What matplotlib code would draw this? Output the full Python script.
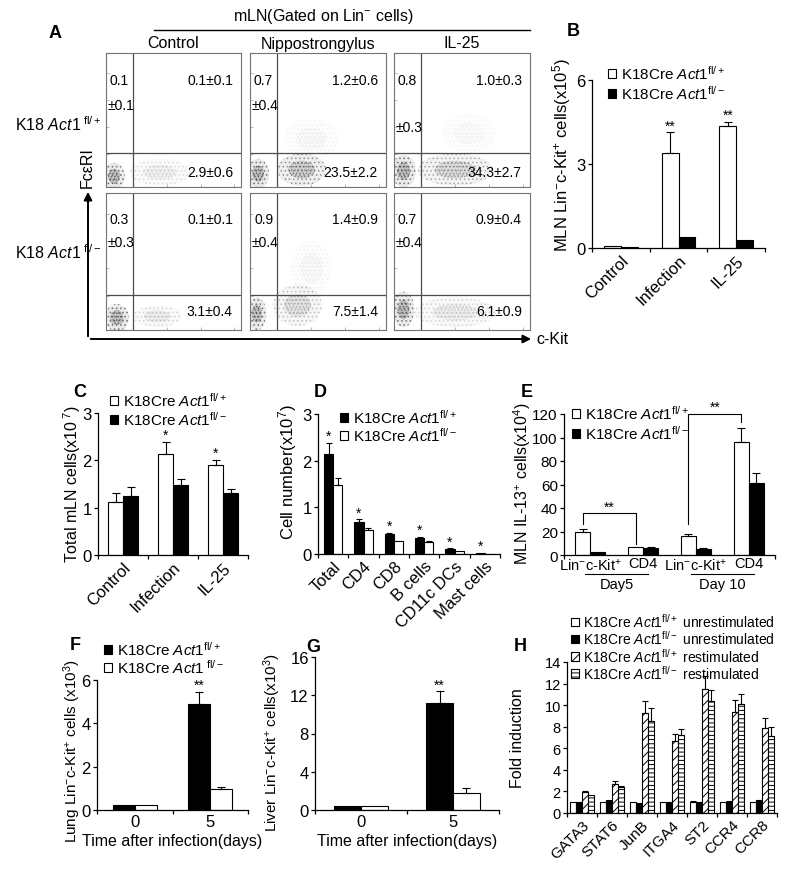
import numpy as np
import matplotlib
matplotlib.use("Agg")
import matplotlib.pyplot as plt
from matplotlib.patches import Patch, Ellipse, FancyArrowPatch
from matplotlib.lines import Line2D
from matplotlib.transforms import blended_transform_factory

plt.rcParams['font.family'] = 'Liberation Sans'
plt.rcParams['mathtext.fontset'] = 'custom'
plt.rcParams['mathtext.rm'] = 'Liberation Sans'
plt.rcParams['mathtext.it'] = 'Liberation Sans:italic'
plt.rcParams['mathtext.bf'] = 'Liberation Sans:bold'
plt.rcParams['hatch.linewidth'] = 0.7

# ---- labels
FL_P = r"K18Cre $\mathit{Act1}^{\mathrm{fl/+}}$"
FL_M = r"K18Cre $\mathit{Act1}^{\mathrm{fl/-}}$"

# ---- panel A: quadrant stats (rows: fl/+, fl/- ; cols: Control, Nippo, IL-25)
a_cols = ["Control", "Nippostrongylus", "IL-25"]
a_rows = [r"K18 $\mathit{Act1}^{\ \mathrm{fl/+}}$", r"K18 $\mathit{Act1}^{\ \mathrm{fl/-}}$"]
ul_mean = [[0.1, 0.7, 0.8], [0.3, 0.9, 0.7]]
ul_sd = [[0.1, 0.4, 0.3], [0.3, 0.4, 0.4]]
ur_mean = [[0.1, 1.2, 1.0], [0.1, 1.4, 0.9]]
ur_sd = [[0.1, 0.6, 0.3], [0.1, 0.9, 0.4]]
lr_mean = [[2.9, 23.5, 34.3], [3.1, 7.5, 6.1]]
lr_sd = [[0.6, 2.2, 2.7], [0.4, 1.4, 0.9]]
# cell clouds: (cx, cy, width, height, intensity) in gate-plot units
a_clouds = [
    [[(0.06, 0.08, 0.16, 0.2, 1.0), (0.4, 0.11, 0.45, 0.2, 0.2)],
     [(0.06, 0.1, 0.16, 0.22, 1.0), (0.38, 0.13, 0.36, 0.24, 0.75), (0.45, 0.36, 0.4, 0.3, 0.08)],
     [(0.07, 0.12, 0.18, 0.24, 1.0), (0.45, 0.13, 0.55, 0.24, 0.55), (0.55, 0.4, 0.4, 0.3, 0.06)]],
    [[(0.08, 0.09, 0.18, 0.2, 1.0), (0.38, 0.1, 0.36, 0.16, 0.25)],
     [(0.05, 0.12, 0.14, 0.24, 1.0), (0.35, 0.18, 0.36, 0.3, 0.4), (0.45, 0.45, 0.3, 0.4, 0.08)],
     [(0.07, 0.15, 0.16, 0.26, 1.0), (0.45, 0.13, 0.6, 0.22, 0.25)]],
]

# ---- panel B
b_cats = ["Control", "Infection", "IL-25"]
b_fp = [0.07, 3.38, 4.34]
b_fp_err = [0, 0.75, 0.15]
b_fm = [0.03, 0.38, 0.27]
b_fm_err = [0, 0, 0]
b_stars = ["", "**", "**"]

# ---- panel C
c_cats = ["Control", "Infection", "IL-25"]
c_fp = [1.11, 2.14, 1.90]
c_fp_err = [0.2, 0.25, 0.11]
c_fm = [1.24, 1.48, 1.31]
c_fm_err = [0.2, 0.13, 0.08]
c_stars = ["", "*", "*"]

# ---- panel D
d_cats = ["Total", "CD4", "CD8", "B cells", "CD11c DCs", "Mast cells"]
d_fp = [2.15, 0.68, 0.43, 0.34, 0.11, 0.02]
d_fp_err = [0.23, 0.06, 0.02, 0.02, 0.01, 0]
d_fm = [1.48, 0.51, 0.27, 0.25, 0.065, 0.01]
d_fm_err = [0.15, 0.04, 0, 0.02, 0, 0]
d_stars = ["*", "*", "*", "*", "*", "*"]

# ---- panel E
e_cats = [r"Lin$^{-}$c-Kit$^{+}$", "CD4", r"Lin$^{-}$c-Kit$^{+}$", "CD4"]
e_days = ["Day5", "Day 10"]
e_fp = [19.2, 7.1, 15.8, 96.0]
e_fp_err = [2.8, 0, 2.0, 12.0]
e_fm = [2.3, 6.2, 5.1, 61.6]
e_fm_err = [0, 0.6, 0.5, 8.4]
# brackets: (left group, right group, left leg low, top, right leg low)
e_brackets = [(0, 1, 26, 35.5, 9), (2, 3, 26, 120, 113)]

# ---- panels F, G
t_days = ["0", "5"]
f_fp = [0.22, 4.89]
f_fp_err = [0, 0.57]
f_fm = [0.22, 0.99]
f_fm_err = [0, 0.07]
g_fp = [0.42, 11.2]
g_fp_err = [0, 1.2]
g_fm = [0.42, 1.82]
g_fm_err = [0, 0.5]

# ---- panel H
h_genes = ["GATA3", "STAT6", "JunB", "ITGA4", "ST2", "CCR4", "CCR8"]
h_fp_un = [1, 1, 1, 1, 1, 1, 1]
h_fp_un_err = [0, 0, 0, 0, 0.1, 0, 0]
h_fm_un = [1.0, 1.2, 0.9, 1.0, 1.05, 1.05, 1.2]
h_fm_un_err = [0, 0, 0, 0, 0, 0.1, 0]
h_fp_re = [1.92, 2.65, 9.25, 6.7, 11.5, 9.35, 7.85]
h_fp_re_err = [0.08, 0.3, 1.1, 0.65, 1.2, 1.1, 0.95]
h_fm_re = [1.7, 2.4, 8.5, 7.2, 10.4, 10.1, 7.15]
h_fm_re_err = [0, 0.1, 1.2, 0.55, 1.0, 0.95, 0.8]

W, H = 800, 878
fig = plt.figure(figsize=(W / 100, H / 100), dpi=100)


def px_box(b):
    x0, y0, x1, y1 = b
    return [x0 / W, 1 - y1 / H, (x1 - x0) / W, (y1 - y0) / H]


def ftext(x, y, s, **kw):
    return fig.text(x / W, 1 - y / H, s, **kw)


def new_axes(b, ylim, yticks, fs):
    ax = fig.add_axes(px_box(b))
    ax.set_ylim(*ylim)
    ax.set_yticks(yticks)
    for s in ["top", "right"]:
        ax.spines[s].set_visible(False)
    for s in ["left", "bottom"]:
        ax.spines[s].set_linewidth(0.9)
    ax.tick_params(axis="y", direction="out", length=3, width=0.9, labelsize=fs, pad=1.5)
    ax.box_px = b
    return ax


def grouped(ax, cats, series, width, fs, rot=45, capsize=3):
    x = np.arange(len(cats))
    k = len(series)
    out = []
    for i, (vals, errs, face, hatch) in enumerate(series):
        pos = x + (i - (k - 1) / 2) * width
        vals = np.asarray(vals, float)
        errs = np.asarray(errs, float)
        ax.bar(pos, vals, width, color=face, edgecolor="black", linewidth=0.8, hatch=hatch)
        m = errs > 0
        if m.any():
            ax.errorbar(pos[m], vals[m], yerr=[np.zeros(m.sum()), errs[m]], fmt="none",
                        ecolor="black", elinewidth=0.8, capsize=capsize, capthick=0.8)
        out.append((pos, vals, errs))
    ax.set_xlim(-0.5, len(cats) - 0.5)
    ax.set_xticks(x)
    ax.set_xticks(np.arange(len(cats) + 1) - 0.5, minor=True)
    ax.tick_params(axis="x", which="major", length=0, pad=3)
    ax.tick_params(axis="x", which="minor", length=3, width=0.9)
    if rot:
        ax.set_xticklabels(cats, rotation=rot, ha="right", rotation_mode="anchor", fontsize=fs)
    else:
        ax.set_xticklabels(cats, fontsize=fs)
    return out


def stars(ax, ser, marks, fs=10):
    pos, vals, errs = ser
    for p, v, e, mk in zip(pos, vals, errs, marks):
        if mk:
            ax.annotate(mk, (p, v + e), xytext=(0, 0), textcoords="offset points",
                        ha="center", va="bottom", fontsize=fs)


def ylabel_px(ax, s, x, y, fs=11.5):
    x0, y0, x1, y1 = ax.box_px
    ax.set_ylabel(s, fontsize=fs, ha="center", va="center")
    ax.yaxis.set_label_coords((x - x0) / (x1 - x0), (y1 - y) / (y1 - y0))


def xlabel_px(ax, s, y, fs=11.5):
    x0, y0, x1, y1 = ax.box_px
    ax.set_xlabel(s, fontsize=fs, va="center")
    ax.xaxis.set_label_coords(0.5, (y1 - y) / (y1 - y0))


def legend_px(ax, handles, labels, x, y, fs=11, spacing=0.15):
    ax.legend(handles, labels, loc="upper left", bbox_to_anchor=(x / W, 1 - y / H),
              bbox_transform=fig.transFigure, frameon=False, fontsize=fs,
              handlelength=0.55, handleheight=0.55, handletextpad=0.3,
              labelspacing=spacing, borderpad=0, borderaxespad=0)


WHITE = Patch(facecolor="white", edgecolor="black", linewidth=0.8)
BLACK = Patch(facecolor="black", edgecolor="black", linewidth=0.8)

# =================== Panel A ===================
ftext(55, 33, "A", fontsize=13, fontweight="bold", ha="center", va="center")
ftext(323, 16, r"mLN(Gated on Lin$^{-}$ cells)", fontsize=11.5, ha="center", va="center")
fig.add_artist(Line2D([154 / W, 530 / W], [1 - 31 / H, 1 - 31 / H], color="black", lw=1.0))
col_x = [(106, 241), (250, 386), (394, 530)]
row_y = [(54, 188), (194, 331)]
row_label_y = [125, 253]
for c, (cx0, cx1) in enumerate(col_x):
    ftext((cx0 + cx1) / 2, 44, a_cols[c], fontsize=11.5, ha="center", va="center")
for r, (ry0, ry1) in enumerate(row_y):
    ftext(102, row_label_y[r], a_rows[r], fontsize=11.5, ha="right", va="center")
    for c, (cx0, cx1) in enumerate(col_x):
        ax = fig.add_axes(px_box((cx0, ry0, cx1, ry1)))
        ax.set_xlim(0, 1)
        ax.set_ylim(0, 1)
        for s in ax.spines.values():
            s.set_color("0.45")
            s.set_linewidth(0.8)
        ax.set_xticks([0.2, 0.45, 0.7, 0.95])
        ax.set_yticks([0.25, 0.45, 0.65, 0.85])
        ax.tick_params(direction="in", length=2, width=0.5, color="0.6",
                       labelbottom=False, labelleft=False)
        for (cx, cy, w, h, lvl) in a_clouds[r][c]:
            ax.add_patch(Ellipse((cx, cy), w, h, facecolor=(0.45, 0.45, 0.45, 0.15 * lvl),
                                 edgecolor=(0.35, 0.35, 0.35, 0.7 * lvl), lw=0, hatch="...."))
            ax.add_patch(Ellipse((cx, cy), 0.55 * w, 0.55 * h, facecolor=(0.3, 0.3, 0.3, 0.25 * lvl),
                                 edgecolor=(0.2, 0.2, 0.2, 0.6 * lvl), lw=0, hatch="....."))
        ax.axvline(0.2, color="0.3", lw=0.9)
        ax.axhline(0.255, color="0.3", lw=0.9)
        fs = 10
        uy, sy, ly = (0.80, 0.61, 0.11) if r == 0 else (0.81, 0.64, 0.14)
        if r == 0 and c == 2:
            sy = 0.45
        ax.text(0.1, uy, f"{ul_mean[r][c]:.1f}", fontsize=fs, ha="center", va="center")
        ax.text(0.01, sy, f"\u00b1{ul_sd[r][c]:.1f}", fontsize=fs, ha="left", va="center")
        ax.text(0.94, uy, f"{ur_mean[r][c]:.1f}\u00b1{ur_sd[r][c]:.1f}", fontsize=fs, ha="right", va="center")
        ax.text(0.94, ly, f"{lr_mean[r][c]:.1f}\u00b1{lr_sd[r][c]:.1f}", fontsize=fs, ha="right", va="center")

fig.add_artist(FancyArrowPatch((88 / W, 1 - 340 / H), (88 / W, 1 - 190 / H), transform=fig.transFigure,
                               arrowstyle="-|>", mutation_scale=12, lw=1.4, color="black"))
fig.add_artist(FancyArrowPatch((88 / W, 1 - 340 / H), (534 / W, 1 - 340 / H), transform=fig.transFigure,
                               arrowstyle="-|>", mutation_scale=12, lw=1.4, color="black"))
ftext(87, 168, "Fc\u03b5RI", fontsize=11.5, rotation=90, ha="center", va="center")
ftext(536, 340, "c-Kit", fontsize=11.5, ha="left", va="center")

# =================== Panel B ===================
ftext(573, 32, "B", fontsize=13, fontweight="bold", ha="center", va="center")
ax = new_axes((592, 81, 765, 249), (0, 6), [0, 3, 6], 12)
sb = grouped(ax, b_cats, [(b_fp, b_fp_err, "white", None), (b_fm, b_fm_err, "black", None)], 0.293, 12)
stars(ax, sb[0], b_stars)
ylabel_px(ax, r"MLN Lin$^{-}$c-Kit$^{+}$ cells(x10$^{5}$)", 562, 155, fs=12)
legend_px(ax, [WHITE, BLACK], [FL_P, FL_M], 608, 65)

# =================== Panel C ===================
ftext(80, 393, "C", fontsize=13, fontweight="bold", ha="center", va="center")
ax = new_axes((98, 414, 248, 556), (0, 3), [0, 1, 2, 3], 12)
sc = grouped(ax, c_cats, [(c_fp, c_fp_err, "white", None), (c_fm, c_fm_err, "black", None)], 0.3, 12)
stars(ax, sc[0], c_stars)
ylabel_px(ax, r"Total mLN cells(x10$^{\ 7}$)", 72, 484, fs=11.5)
legend_px(ax, [WHITE, BLACK], [FL_P, FL_M], 110, 392, spacing=0.05)

# =================== Panel D ===================
ftext(320, 393, "D", fontsize=13, fontweight="bold", ha="center", va="center")
ax = new_axes((318, 415, 500, 555), (0, 3), [0, 1, 2, 3], 12)
sd = grouped(ax, d_cats, [(d_fp, d_fp_err, "black", None), (d_fm, d_fm_err, "white", None)], 0.3, 12, capsize=2.5)
stars(ax, sd[0], d_stars)
ylabel_px(ax, r"Cell number(x10$^{7}$)", 288, 472, fs=12)
legend_px(ax, [BLACK, WHITE], [FL_P, FL_M], 340, 409, spacing=0.0)

# =================== Panel E ===================
ftext(527, 393, "E", fontsize=13, fontweight="bold", ha="center", va="center")
ax = new_axes((564, 415, 775, 556), (0, 120), [0, 20, 40, 60, 80, 100, 120], 11)
se = grouped(ax, e_cats, [(e_fp, e_fp_err, "white", None), (e_fm, e_fm_err, "black", None)], 0.285, 10.5, rot=0)
ax.tick_params(axis="x", which="major", pad=1)
ax.set_xticks([-0.5, 4 - 0.5], minor=True)
bt = blended_transform_factory(ax.transData, ax.transAxes)
for g, d in zip([0, 2], e_days):
    ax.plot([g - 0.1, g + 1.1], [-0.135, -0.135], transform=bt, clip_on=False, color="black", lw=0.8)
    ax.text(g + 0.5, -0.205, d, transform=bt, ha="center", va="center", fontsize=10.5)
wpos = se[0][0]
for gl, gr, lo_l, top, lo_r in e_brackets:
    ax.plot([wpos[gl], wpos[gl], wpos[gr], wpos[gr]], [lo_l, top, top, lo_r], color="black",
            lw=0.8, clip_on=False)
    ax.annotate("**", ((wpos[gl] + wpos[gr]) / 2, top), xytext=(0, 0), textcoords="offset points",
                ha="center", va="bottom", fontsize=10, annotation_clip=False)
ylabel_px(ax, r"MLN IL-13$^{+}$ cells(x10$^{4}$)", 522, 484, fs=11.5)
legend_px(ax, [WHITE, BLACK], [FL_P, FL_M], 572, 405)

# =================== Panel F ===================
ftext(75, 646, "F", fontsize=13, fontweight="bold", ha="center", va="center")
ax = new_axes((97, 681, 248, 811), (0, 6), [0, 2, 4, 6], 12)
sf = grouped(ax, t_days, [(f_fp, f_fp_err, "black", None), (f_fm, f_fm_err, "white", None)], 0.29, 12, rot=0)
stars(ax, sf[0], ["", "**"])
ylabel_px(ax, r"Lung Lin$^{-}$c-Kit$^{+}$ cells (x10$^{3}$)", 72, 751, fs=11)
xlabel_px(ax, "Time after infection(days)", 842, fs=11.5)
legend_px(ax, [BLACK, WHITE], [FL_P, r"K18Cre $\mathit{Act1}^{\ \mathrm{fl/-}}$"], 104, 641, spacing=0.0)

# =================== Panel G ===================
ftext(313, 648, "G", fontsize=13, fontweight="bold", ha="center", va="center")
ax = new_axes((315, 658, 499, 811), (0, 16), [0, 4, 8, 12, 16], 12)
sg = grouped(ax, t_days, [(g_fp, g_fp_err, "black", None), (g_fm, g_fm_err, "white", None)], 0.29, 12, rot=0)
stars(ax, sg[0], ["", "**"])
ylabel_px(ax, r"Liver Lin$^{-}$c-Kit$^{+}$ cells(x10$^{3}$)", 272, 743, fs=11)
xlabel_px(ax, "Time after infection(days)", 842, fs=11.5)

# =================== Panel H ===================
ftext(520, 647, "H", fontsize=13, fontweight="bold", ha="center", va="center")
ax = new_axes((567, 663, 777, 814), (0, 14), [0, 2, 4, 6, 8, 10, 12, 14], 10.5)
sh = grouped(ax, h_genes, [(h_fp_un, h_fp_un_err, "white", None), (h_fm_un, h_fm_un_err, "black", None),
                           (h_fp_re, h_fp_re_err, "white", "////"), (h_fm_re, h_fm_re_err, "white", "----")],
             0.2, 11, capsize=2)
ylabel_px(ax, "Fold induction", 518, 738, fs=11.5)
legend_px(ax, [WHITE, BLACK, Patch(facecolor="white", edgecolor="black", hatch="////", linewidth=0.8),
               Patch(facecolor="white", edgecolor="black", hatch="----", linewidth=0.8)],
          [FL_P + " unrestimulated", FL_M + " unrestimulated", FL_P + " restimulated", FL_M + " restimulated"],
          571, 613, fs=10, spacing=-0.05)

fig.savefig("out.png", dpi=100)
